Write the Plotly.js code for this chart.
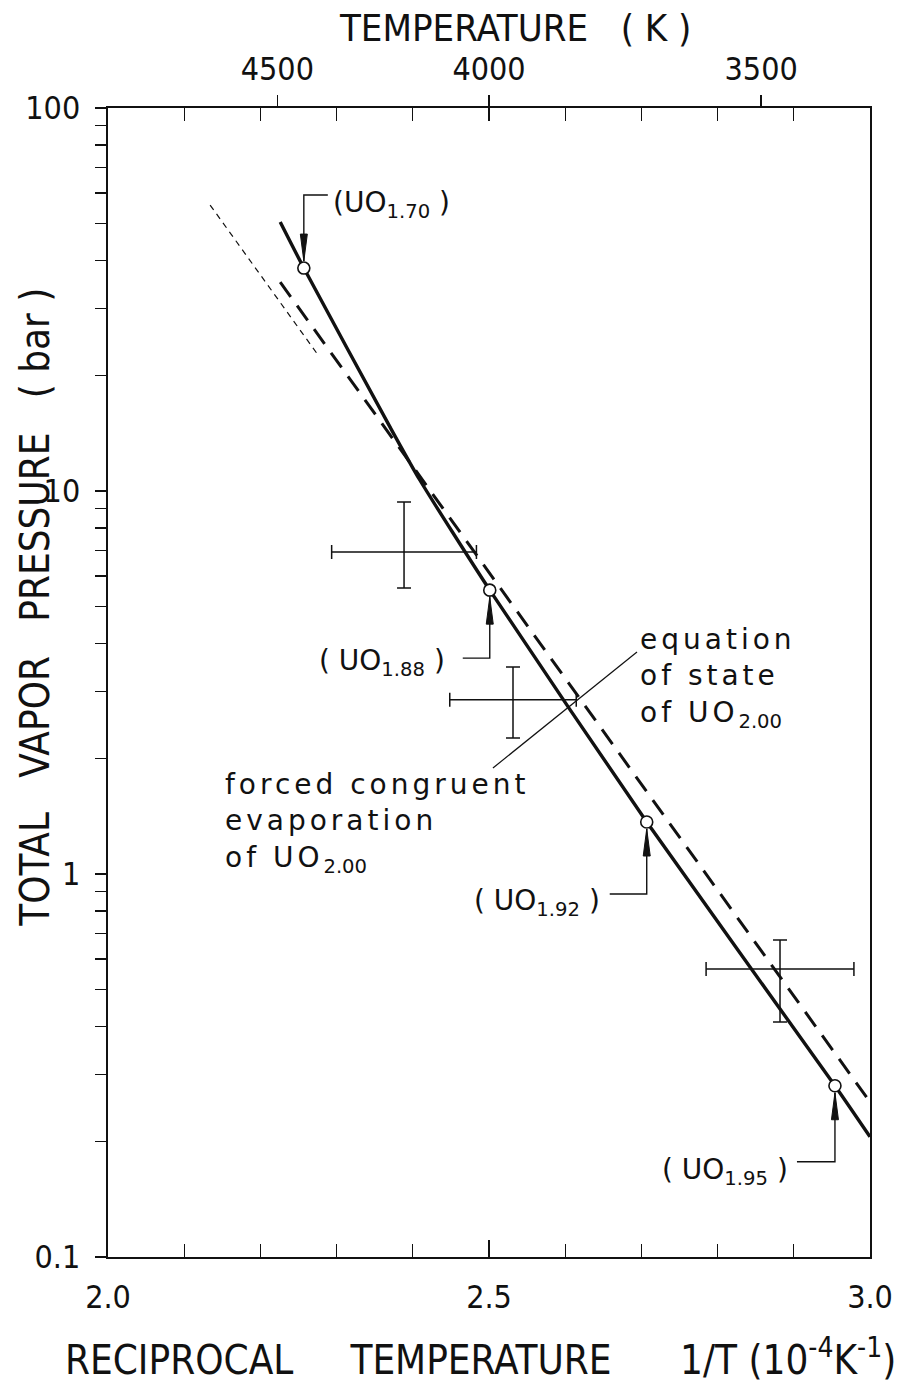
<!DOCTYPE html>
<html>
<head>
<meta charset="utf-8">
<script src="https://cdn.plot.ly/plotly-3.0.1.min.js"></script>
<style>
  html, body { margin: 0; padding: 0; background: #ffffff; }
  #chart { width: 916px; height: 1385px; }
</style>
</head>
<body>
<div id="chart"></div>
<script>
// ---------------- data ----------------
// solid curve: forced congruent evaporation of UO2.00
const congruentInvT = [2.226, 2.257, 2.370, 2.409, 2.501, 2.707, 2.954, 3.000];
const congruentP    = [50.4, 38.2, 14.7, 10.7, 5.51, 1.367, 0.280, 0.206];

// heavy dashed line: equation of state of UO2.00
const eosInvT = [2.226, 3.000];
const eosP    = [35.1, 0.254];

// fine dashed extrapolation
const extrapInvT = [2.134, 2.276];
const extrapP    = [55.8, 22.6];

// marked compositions on the solid curve
const compInvT   = [2.257, 2.501, 2.707, 2.954];
const compP      = [38.2, 5.51, 1.367, 0.280];
const compLabels = ['1.70', '1.88', '1.92', '1.95'];

// measurements with error bars
const measInvT    = [2.3885, 2.5315, 2.8819];
const measP       = [6.93, 2.85, 0.565];
const measInvTErr = [0.095, 0.083, 0.097];
const measPHigh   = [9.36, 3.47, 0.672];
const measPLow    = [5.58, 2.265, 0.411];

// axis ticks
const xTickVals  = [2.0, 2.5, 3.0];
const xTickText  = ['2.0', '2.5', '3.0'];
const xMinorVals = [2.1, 2.2, 2.3, 2.4, 2.6, 2.7, 2.8, 2.9];
const tempTicks  = [4500, 4000, 3500];
const yDecades   = [0.1, 1, 10, 100];
const yDecadeText = ['0.1', '1', '10', '100'];

// ---------------- build ----------------
const NARROW = '"Liberation Sans Narrow", "DejaVu Sans Condensed", "Liberation Sans", sans-serif';
const LETTER = '"DejaVu Sans", "Liberation Sans", sans-serif';
const nb = n => '\u00A0'.repeat(n);

const tempInv = tempTicks.map(t => 1e4 / t);
const tempText = tempTicks.map(t => String(t));

const yMinorVals = [];
yDecades.slice(0, -1).forEach(d => {
  for (let k = 2; k <= 9; k++) yMinorVals.push(d * k);
});

const traces = [
  { x: extrapInvT, y: extrapP, mode: 'lines', line: {color: '#111', width: 1.2, dash: '6px,5px'},
    showlegend: false, hoverinfo: 'skip' },
  { x: eosInvT, y: eosP, mode: 'lines', line: {color: '#111', width: 3, dash: '18px,11px'},
    showlegend: false, hoverinfo: 'skip' },
  { x: congruentInvT, y: congruentP, mode: 'lines', line: {color: '#111', width: 3.4, shape: 'spline', smoothing: 0.6},
    showlegend: false, hoverinfo: 'skip' },
  { x: compInvT, y: compP, mode: 'markers',
    marker: {symbol: 'circle', size: 12, color: '#fff', line: {color: '#111', width: 1.6}},
    showlegend: false, hoverinfo: 'skip' },
  { x: measInvT, y: measP, mode: 'markers', marker: {size: 1, color: '#111'},
    error_x: {type: 'data', array: measInvTErr, color: '#111', thickness: 1.5, width: 7},
    error_y: {type: 'data', symmetric: false,
              array: measP.map((p, i) => measPHigh[i] - p),
              arrayminus: measP.map((p, i) => p - measPLow[i]),
              color: '#111', thickness: 1.5, width: 7},
    showlegend: false, hoverinfo: 'skip' },
  { x: tempInv, y: tempInv.map(() => 1), xaxis: 'x2', mode: 'markers',
    marker: {size: 1, opacity: 0}, showlegend: false, hoverinfo: 'skip' }
];

// leaders for the composition labels (pixel offsets from each point)
const leaderGeom = [
  {hx0: 24, hy: 73, up: true,  lx: 27,  ly: 64,  anchor: 'left',  text: '(UO'},
  {hx0: -27, hy: -68, up: false, lx: -43, ly: -72, anchor: 'right', text: '(' + nb(1) + 'UO'},
  {hx0: -37, hy: -72, up: false, lx: -45, ly: -80, anchor: 'right', text: '(' + nb(1) + 'UO'},
  {hx0: -38, hy: -76, up: false, lx: -45, ly: -86, anchor: 'right', text: '(' + nb(1) + 'UO'}
];

const shapes = [];
const annotations = [];
compInvT.forEach((xv, i) => {
  const g = leaderGeom[i];
  const s = g.up ? 1 : -1;
  shapes.push({
    type: 'path', xref: 'x', yref: 'y', xsizemode: 'pixel', ysizemode: 'pixel',
    xanchor: xv, yanchor: compP[i],
    path: `M${g.hx0},${g.hy} L0,${g.hy} L0,${s * 7}`,
    line: {color: '#111', width: 1.4}
  });
  shapes.push({
    type: 'path', xref: 'x', yref: 'y', xsizemode: 'pixel', ysizemode: 'pixel',
    xanchor: xv, yanchor: compP[i],
    path: `M0,${s * 7} L-3.5,${s * 34} L3.5,${s * 34} Z`,
    fillcolor: '#111', line: {color: '#111', width: 1}
  });
  annotations.push({
    x: xv, y: Math.log10(compP[i]), xref: 'x', yref: 'y', showarrow: false,
    xanchor: g.anchor, yanchor: 'middle', xshift: g.lx, yshift: g.ly,
    text: g.text + '<sub>' + compLabels[i] + '</sub>' + nb(1) + ')',
    font: {family: LETTER, size: 28, color: '#111'}
  });
});

// leader line between the two text blocks
shapes.push({type: 'line', xref: 'paper', yref: 'paper',
  x0: 0.5052, y0: 0.4256, x1: 0.6942, y1: 0.5265, line: {color: '#111', width: 1.2}});

annotations.push(
  { xref: 'paper', yref: 'paper', x: 0.6955, y: 0.504, xanchor: 'left', yanchor: 'middle', align: 'left',
    showarrow: false, font: {family: LETTER, size: 28, color: '#111'},
    text: 'equation<br>of' + nb(1) + 'state<br>of' + nb(1) + 'UO<sub>2.00</sub>' },
  { xref: 'paper', yref: 'paper', x: 0.151, y: 0.3777, xanchor: 'left', yanchor: 'middle', align: 'left',
    showarrow: false, font: {family: LETTER, size: 28, color: '#111'},
    text: 'forced' + nb(1) + 'congruent<br>evaporation<br>of' + nb(1) + 'UO<sub>2.00</sub>' },
  { xref: 'paper', yref: 'paper', x: 0.534, y: 1, yshift: 80, xanchor: 'center', yanchor: 'middle',
    showarrow: false, font: {family: NARROW, size: 38, color: '#111'},
    text: 'TEMPERATURE' + nb(3) + '(' + nb(1) + 'K' + nb(1) + ')' },
  { xref: 'paper', yref: 'paper', x: 0.489, y: 0, yshift: -100, xanchor: 'center', yanchor: 'middle',
    showarrow: false, font: {family: NARROW, size: 40, color: '#111'},
    text: 'RECIPROCAL' + nb(5) + 'TEMPERATURE' + nb(6) + '1/T' + nb(1) + '(10<sup>-4</sup>K<sup>-1</sup>)' },
  { xref: 'paper', yref: 'paper', x: 0, y: 0.565, xshift: -73, xanchor: 'center', yanchor: 'middle',
    textangle: -90, showarrow: false, font: {family: NARROW, size: 40, color: '#111'},
    text: 'TOTAL' + nb(3) + 'VAPOR' + nb(3) + 'PRESSURE' + nb(3) + '(' + nb(1) + 'bar' + nb(1) + ')' }
);

const layout = {
  width: 916, height: 1385,
  margin: {l: 108, r: 46, t: 108, b: 128, pad: 0},
  paper_bgcolor: '#ffffff', plot_bgcolor: '#ffffff',
  showlegend: false,
  xaxis: {
    range: [2.0, 3.0], tickmode: 'array', tickvals: xTickVals, ticktext: xTickText,
    ticks: 'inside', ticklen: 17, tickwidth: 1.4, tickcolor: '#111',
    minor: {tickmode: 'array', tickvals: xMinorVals, ticks: 'inside', ticklen: 13, tickwidth: 1.4, tickcolor: '#111'},
    showline: true, mirror: true, linecolor: '#111', linewidth: 2.2,
    showgrid: false, zeroline: false, ticklabelstandoff: 10,
    tickfont: {family: NARROW, size: 32, color: '#111'}
  },
  xaxis2: {
    overlaying: 'x', side: 'top', range: [2.0, 3.0], tickmode: 'array',
    tickvals: tempInv, ticktext: tempText,
    ticks: 'outside', ticklen: 12, tickwidth: 1.4, tickcolor: '#111',
    minor: {tickmode: 'array', tickvals: xMinorVals.concat([2.5]), ticks: 'inside', ticklen: 13, tickwidth: 1.4, tickcolor: '#111'},
    showline: false, showgrid: false, zeroline: false, ticklabelstandoff: 2,
    tickfont: {family: NARROW, size: 32, color: '#111'}
  },
  yaxis: {
    type: 'log', range: [-1, 2], tickmode: 'array', tickvals: yDecades, ticktext: yDecadeText,
    ticks: 'outside', ticklen: 11, tickwidth: 1.4, tickcolor: '#111',
    minor: {tickmode: 'array', tickvals: yMinorVals, ticks: 'outside', ticklen: 11, tickwidth: 1.4, tickcolor: '#111'},
    showline: true, mirror: true, linecolor: '#111', linewidth: 2.4,
    showgrid: false, zeroline: false, ticklabelstandoff: 8,
    tickfont: {family: NARROW, size: 32, color: '#111'}
  },
  shapes: shapes,
  annotations: annotations
};

Plotly.newPlot('chart', traces, layout, {staticPlot: true, displayModeBar: false}).then(gd => {
  // the reference lettering of the two text blocks is widely spaced
  gd.querySelectorAll('.annotation-text').forEach(t => {
    const s = t.textContent;
    if (s.indexOf('equation') >= 0 || s.indexOf('forced') >= 0) {
      t.style.letterSpacing = '4px';
      t.querySelectorAll('tspan').forEach(sp => {
        const st = sp.getAttribute('style') || '';
        if (st.indexOf('font-size') >= 0) sp.style.letterSpacing = '0px';
      });
    }
  });
});
</script>
</body>
</html>
